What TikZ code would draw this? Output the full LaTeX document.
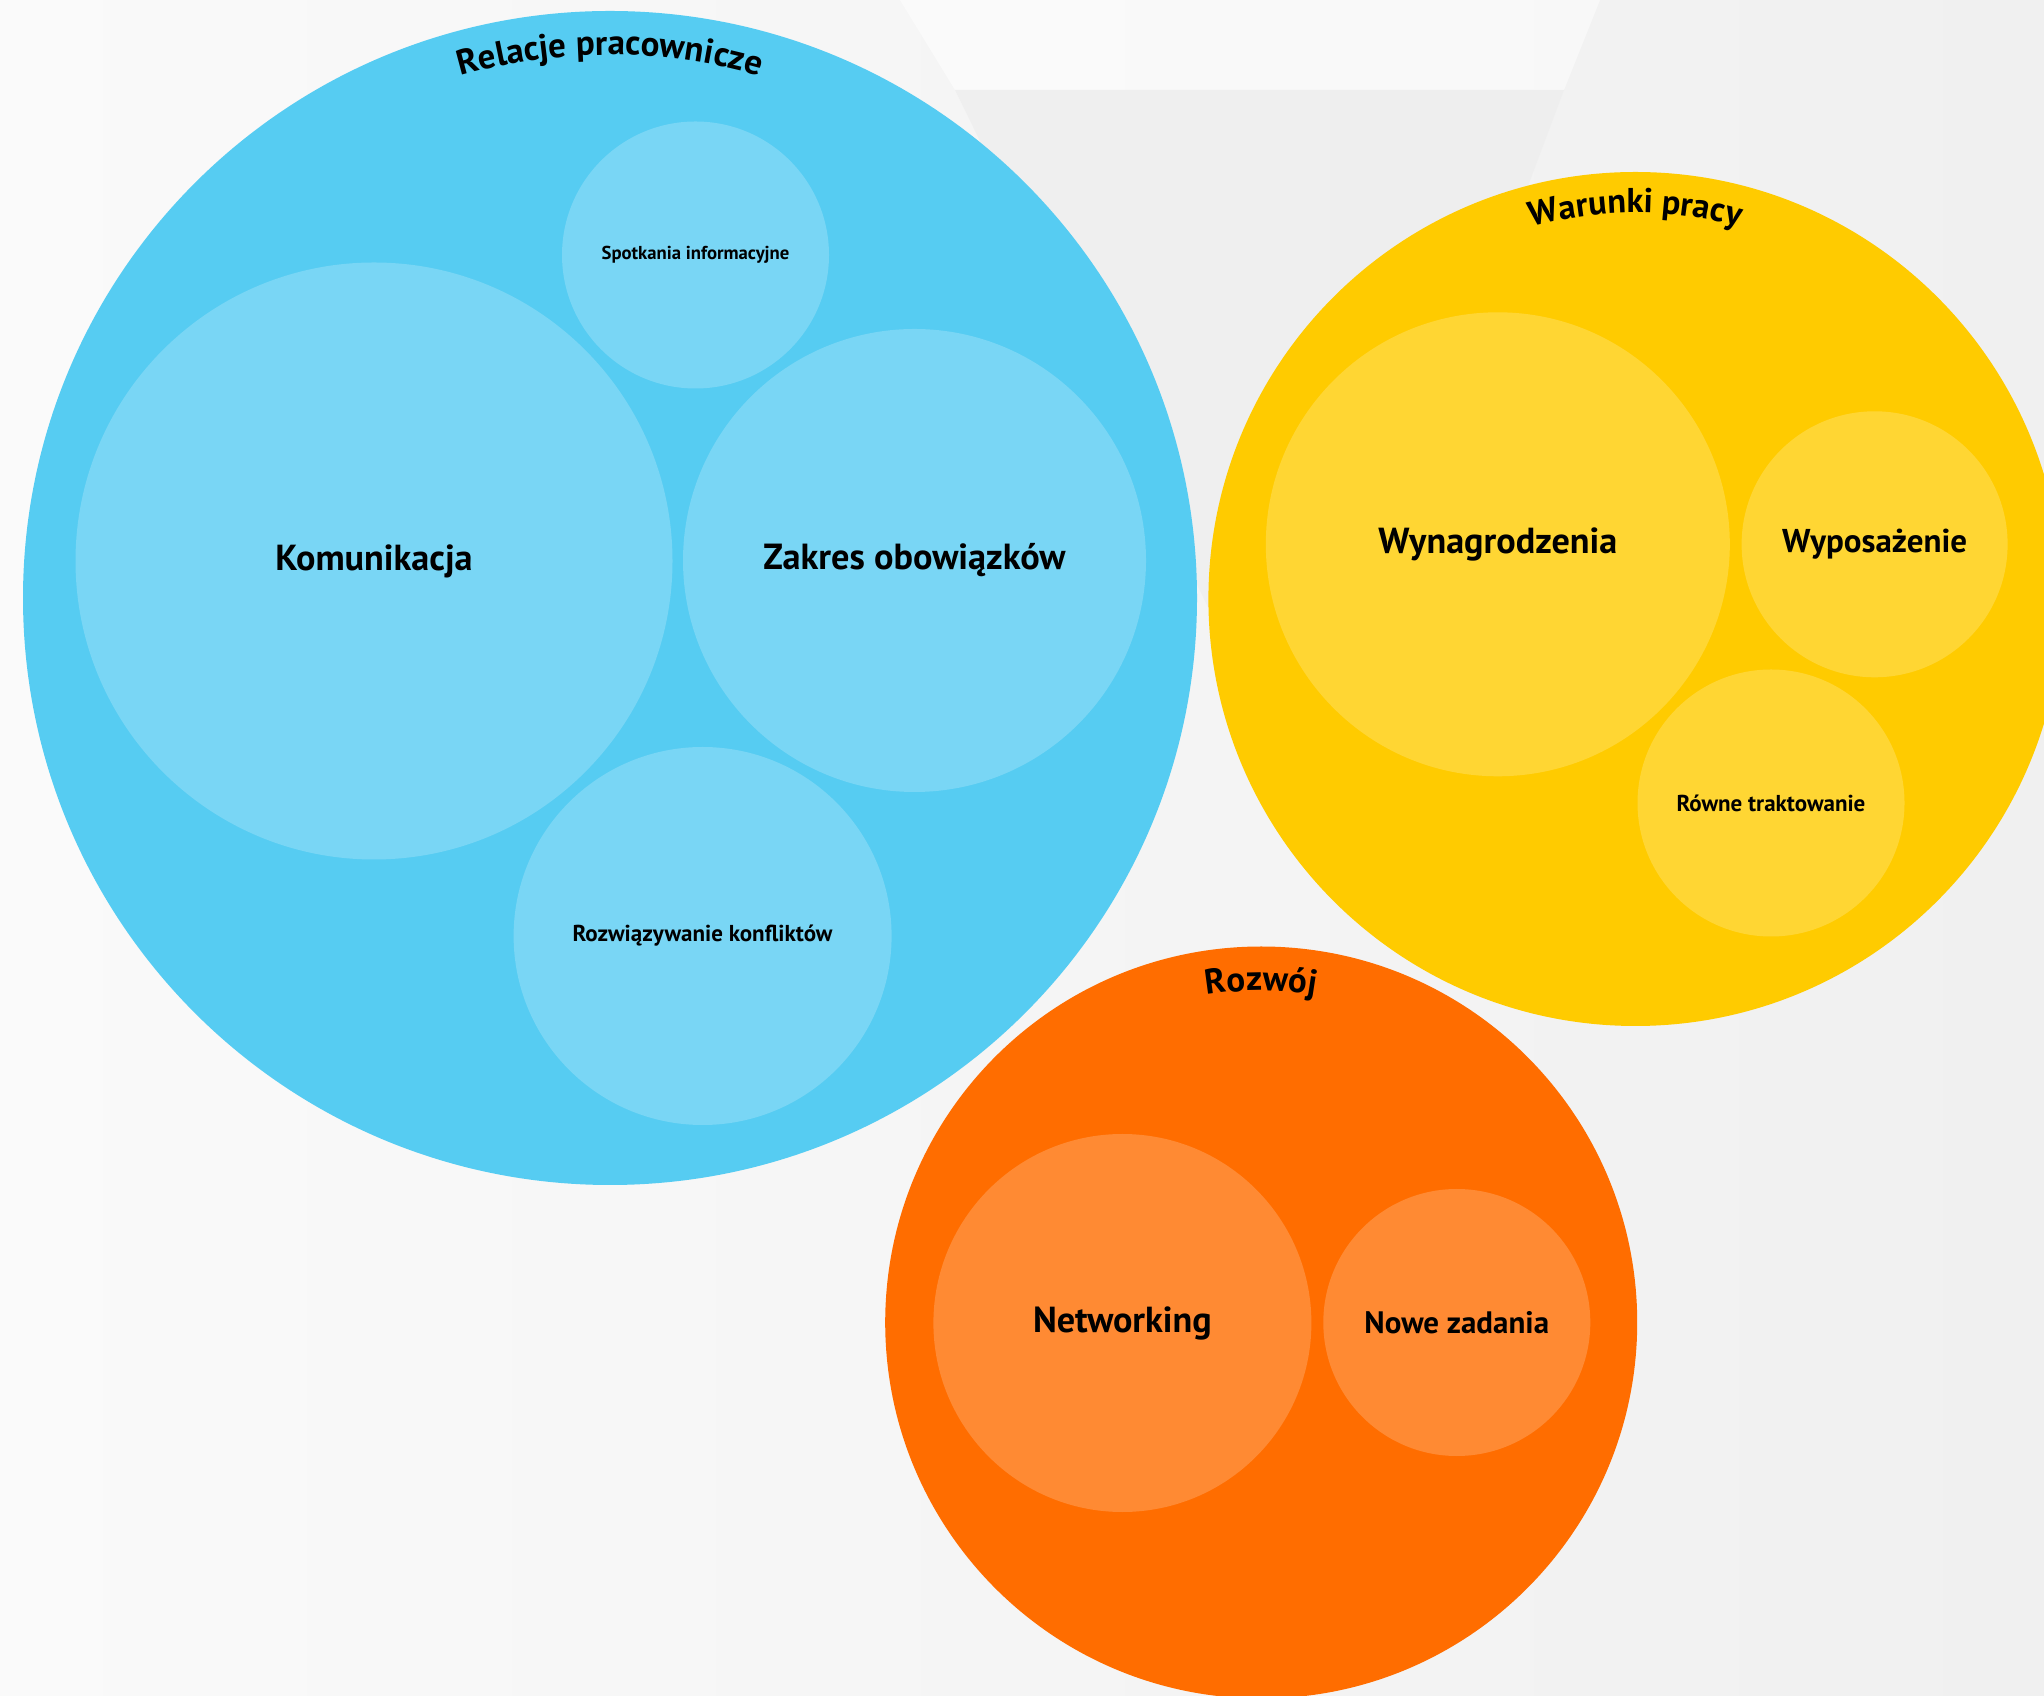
\documentclass[tikz,border=0pt]{standalone}
\usepackage{fontspec}
\setmainfont{PT Sans}
\usetikzlibrary{decorations.text}
\definecolor{bgL}{HTML}{FAFAFA}
\definecolor{bgR}{HTML}{F0F0F0}
\definecolor{bgTri}{HTML}{EDEDED}
\definecolor{blueO}{HTML}{56CCF2}
\definecolor{blueI}{HTML}{79D6F5}
\definecolor{yelO}{HTML}{FFCB00}
\definecolor{yelI}{HTML}{FFD633}
\definecolor{oraO}{HTML}{FF6D00}
\definecolor{oraI}{HTML}{FF8A33}
\tikzset{
  bubble/.style={circle, inner sep=0pt, text=black, font=\bfseries, align=center},
}
\newcommand{\fsz}[1]{\fontsize{#1}{#1}\selectfont\bfseries}
\begin{document}
\begin{tikzpicture}[x=1pt,y=1pt]
\useasboundingbox (0,0) rectangle (2044,1695);
% background
\shade[left color=bgL, right color=bgR] (0,0) rectangle (2044,1695);
\fill[white, opacity=0.5] (900,1695) -- (1600,1695) -- (1564,1605) -- (955,1605) -- cycle;
\fill[bgTri, opacity=0.7] (955,1605) -- (1564,1605) -- (1300,900) -- cycle;

% Relacje pracownicze
\node[bubble, fill=blueO, minimum size=1174pt] (rel) at (610,1097) {};
\path[decorate, decoration={text along path, text align=center,
  text={|\fsz{35}|Relacje pracownicze}}]
  (rel.center) ++(160:543) arc[start angle=160, end angle=20, radius=543];
\node[bubble, fill=blueI, minimum size=597pt] (kom) at (374,1134) {\fsz{36.2}Komunikacja};
\node[bubble, fill=blueI, minimum size=463pt] (zak) at (914.5,1134.5) {\fsz{36.3}Zakres obowiązków};
\node[bubble, fill=blueI, minimum size=267pt] (spo) at (695.5,1440) {\fsz{18.7}Spotkania informacyjne};
\node[bubble, fill=blueI, minimum size=378pt] (roz) at (702.6,759) {\fsz{23}Rozwiązywanie konfliktów};

% Warunki pracy
\node[bubble, fill=yelO, minimum size=854pt] (war) at (1635.4,1096) {};
\path[decorate, decoration={text along path, text align=center,
  text={|\fsz{34.4}|Warunki pracy}}]
  (war.center) ++(150:386) arc[start angle=150, end angle=30, radius=386];
\node[bubble, fill=yelI, minimum size=464pt] (wyn) at (1497.8,1150.7) {\fsz{36.2}Wynagrodzenia};
\node[bubble, fill=yelI, minimum size=266pt] (wyp) at (1874.6,1150.7) {\fsz{33}Wyposażenie};
\node[bubble, fill=yelI, minimum size=267pt] (row) at (1771,892) {\fsz{23}Równe traktowanie};

% Rozwój
\node[bubble, fill=oraO, minimum size=752pt] (rzw) at (1261.2,372.5) {};
\path[decorate, decoration={text along path, text align=center,
  text={|\fsz{35}|Rozwój}}]
  (rzw.center) ++(150:332) arc[start angle=150, end angle=30, radius=332];
\node[bubble, fill=oraI, minimum size=378pt] (net) at (1122.4,372) {\fsz{36.2}Networking};
\node[bubble, fill=oraI, minimum size=267pt] (now) at (1456.8,372.5) {\fsz{31}Nowe zadania};
\end{tikzpicture}
\end{document}
